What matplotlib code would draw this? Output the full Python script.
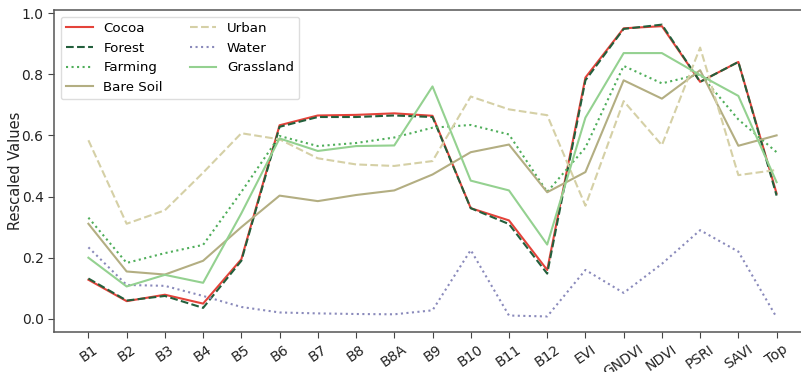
import matplotlib
matplotlib.use("Agg")
import matplotlib.pyplot as plt
import numpy as np

categories = ["B1", "B2", "B3", "B4", "B5", "B6", "B7", "B8", "B8A", "B9", "B10",
              "B11", "B12", "EVI", "GNDVI", "NDVI", "PSRI", "SAVI", "Top"]

cocoa = [0.128, 0.058, 0.079, 0.050, 0.195, 0.633, 0.665, 0.667, 0.672, 0.664, 0.362,
         0.322, 0.160, 0.789, 0.950, 0.957, 0.775, 0.840, 0.410]
forest = [0.132, 0.060, 0.075, 0.036, 0.190, 0.628, 0.660, 0.660, 0.665, 0.660, 0.362,
          0.310, 0.148, 0.780, 0.948, 0.962, 0.775, 0.840, 0.403]
farming = [0.331, 0.183, 0.215, 0.242, 0.415, 0.598, 0.565, 0.575, 0.593, 0.625, 0.634,
           0.603, 0.415, 0.560, 0.827, 0.770, 0.800, 0.652, 0.545]
bare_soil = [0.311, 0.155, 0.145, 0.190, 0.300, 0.403, 0.385, 0.405, 0.420, 0.472, 0.545,
             0.570, 0.414, 0.480, 0.780, 0.720, 0.813, 0.566, 0.600]
urban = [0.584, 0.311, 0.355, 0.478, 0.607, 0.587, 0.525, 0.505, 0.500, 0.516, 0.727,
         0.685, 0.666, 0.370, 0.712, 0.568, 0.887, 0.470, 0.487]
water = [0.234, 0.111, 0.108, 0.075, 0.039, 0.021, 0.018, 0.016, 0.015, 0.028, 0.225,
         0.011, 0.008, 0.160, 0.085, 0.180, 0.290, 0.220, 0.005]
grassland = [0.200, 0.106, 0.144, 0.118, 0.345, 0.590, 0.549, 0.565, 0.567, 0.760, 0.452,
             0.420, 0.243, 0.658, 0.869, 0.869, 0.797, 0.729, 0.447]

series = [
    ("Cocoa", cocoa, "#e4433a", "-"),
    ("Forest", forest, "#235f3c", "--"),
    ("Farming", farming, "#4fae5a", ":"),
    ("Bare Soil", bare_soil, "#b3ae82", "-"),
    ("Urban", urban, "#d5d0a6", "--"),
    ("Water", water, "#8a8abb", ":"),
    ("Grassland", grassland, "#94d190", "-"),
]

fig = plt.figure(figsize=(8.01, 3.72), dpi=100)
ax = fig.add_axes([54 / 801, 40 / 372, 757 / 801, 322 / 372])

x = np.arange(len(categories))
for name, vals, color, ls in series:
    ax.plot(x, vals, color=color, linestyle=ls, linewidth=1.5, label=name)

ax.set_xticks(x)
ax.set_xticklabels(categories, rotation=35, ha="center",
                   fontsize=10, color="#222222")
ax.tick_params(axis="y", labelsize=10, labelcolor="#222222")
ax.tick_params(axis="both", color="#444444", length=4)
ax.set_yticks([0.0, 0.2, 0.4, 0.6, 0.8, 1.0])
ax.set_ylabel("Rescaled Values", fontsize=10.5, color="#222222", labelpad=-1)

for side in ["left", "bottom", "top"]:
    ax.spines[side].set_color("#555555")
    ax.spines[side].set_linewidth(1.1)
ax.spines["right"].set_visible(False)

ax.legend(loc="upper left", ncol=2, fontsize=9.6, framealpha=1.0, edgecolor="#dddddd")

fig.savefig("out.png", dpi=100)
